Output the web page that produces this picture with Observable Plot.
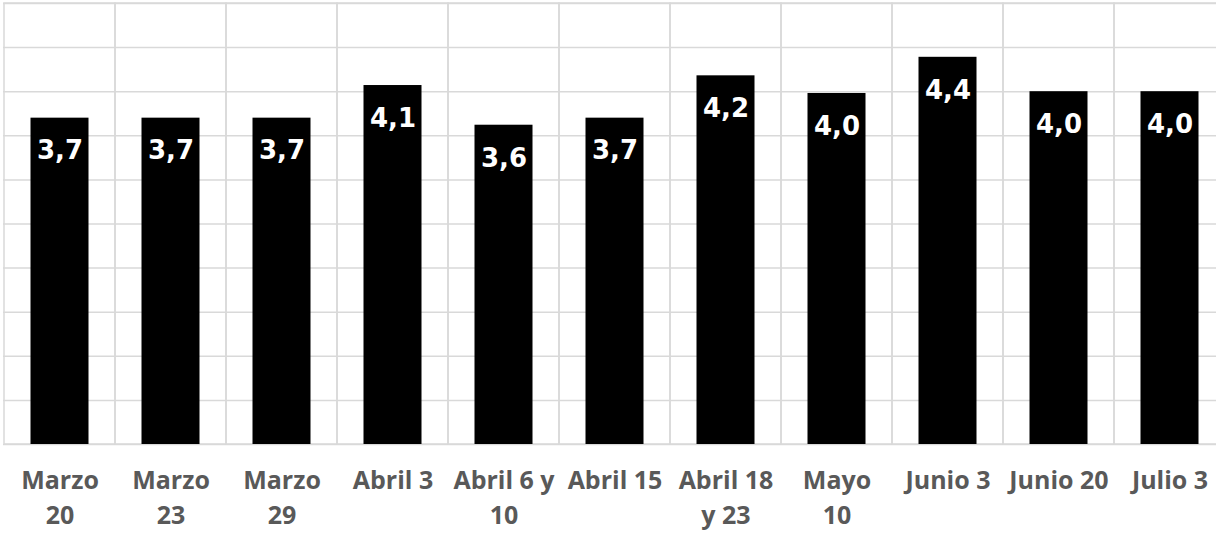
<!DOCTYPE html>
<html>
<head>
<meta charset="utf-8">
<script src="https://cdn.jsdelivr.net/npm/d3@7"></script>
<script src="https://cdn.jsdelivr.net/npm/@observablehq/plot@0.6"></script>
<style>
  html, body { margin: 0; padding: 0; background: #fff; overflow: hidden; }
</style>
</head>
<body>
<div id="chart"></div>
<script>
const categories = ["Marzo\n20", "Marzo\n23", "Marzo\n29", "Abril 3", "Abril 6 y\n10", "Abril 15", "Abril 18\ny 23", "Mayo\n10", "Junio 3", "Junio 20", "Julio 3"];
const values = [3.70, 3.70, 3.70, 4.07, 3.62, 3.70, 4.18, 3.98, 4.39, 4.00, 4.00];
const yDomain = [0, 5];
const yGrid = [0, 0.5, 1, 1.5, 2, 2.5, 3, 3.5, 4, 4.5, 5];

const data = categories.map((c, i) => ({cat: c, value: values[i]}));

const chart = Plot.plot({
  width: 1216,
  height: 534,
  marginTop: 3,
  marginBottom: 90,
  marginLeft: 3,
  marginRight: 0,
  style: {fontFamily: "'Open Sans', sans-serif", background: "#fff"},
  x: {domain: categories, range: [3, 1225], padding: 0},
  y: {domain: yDomain},
  marks: [
    Plot.ruleY(yGrid, {stroke: "#d9d9d9", strokeWidth: 1.5}),
    Plot.barY(categories, {x: d => d, y1: yDomain[0], y2: yDomain[1], fill: "none", stroke: "#d9d9d9", strokeWidth: 1.5}),
    Plot.barY(data, {x: "cat", y: "value", fill: "#000", insetLeft: 26.5, insetRight: 26.5}),
    Plot.text(data, {x: "cat", y: "value", text: d => d.value.toFixed(1).replace(".", ","), fill: "#fff", fontSize: 26, fontWeight: "bold", fontFamily: "'DejaVu Sans', sans-serif", dy: 33}),
    Plot.axisX({tickSize: 0, tickPadding: 20, fontSize: 25, fontWeight: "bold", fill: "#595959", lineHeight: 1.4, label: null}),
    Plot.axisY({ticks: [], label: null})
  ]
});
document.getElementById("chart").append(chart);
</script>
</body>
</html>
